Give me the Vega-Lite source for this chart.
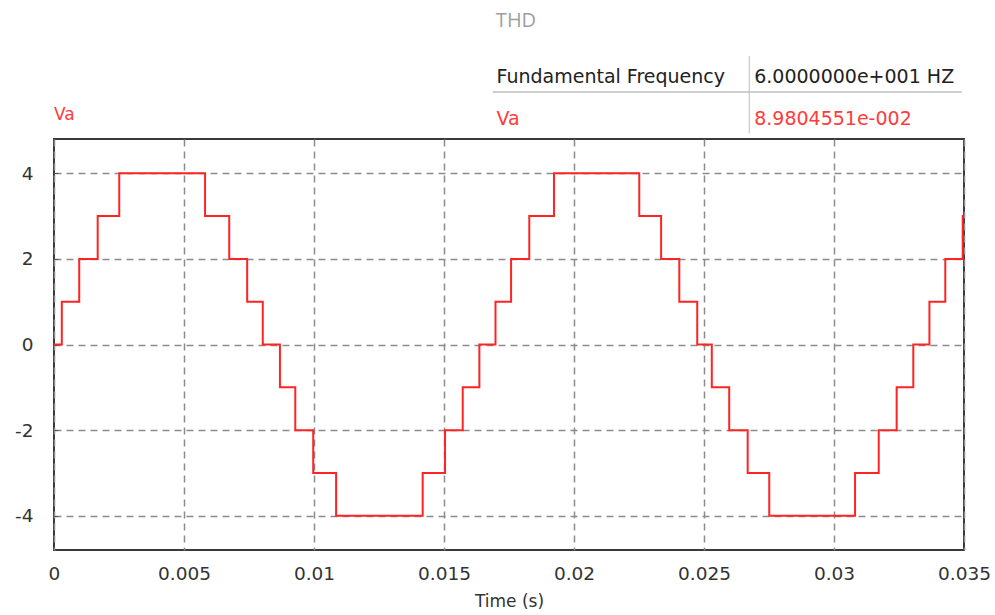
{
  "$schema": "https://vega.github.io/schema/vega-lite/v6.json",
  "width": 910,
  "height": 411,
  "autosize": {"type": "none"},
  "padding": {"left": 54, "top": 139, "right": 31, "bottom": 65},
  "background": "white",
  "title": {"text": "THD", "color": "#a0a0a0", "fontSize": 20, "font": "Open Sans", "fontWeight": "normal", "offset": 24, "anchor": "middle", "dx": 7},
  "config": {"view": {"stroke": "#3a3a3a", "strokeWidth": 2}},
  "datasets": {
    "wave": [
      {"t": 0, "v": 0}, {"t": 0.0003, "v": 1}, {"t": 0.00097, "v": 2}, {"t": 0.00168, "v": 3}, {"t": 0.00251, "v": 4},
      {"t": 0.00581, "v": 3}, {"t": 0.00674, "v": 2}, {"t": 0.00743, "v": 1}, {"t": 0.00803, "v": 0},
      {"t": 0.00869, "v": -1}, {"t": 0.00928, "v": -2}, {"t": 0.00997, "v": -3}, {"t": 0.01085, "v": -4},
      {"t": 0.01418, "v": -3}, {"t": 0.01504, "v": -2}, {"t": 0.01572, "v": -1}, {"t": 0.01636, "v": 0},
      {"t": 0.01698, "v": 1}, {"t": 0.01758, "v": 2}, {"t": 0.01828, "v": 3}, {"t": 0.01923, "v": 4},
      {"t": 0.02251, "v": 3}, {"t": 0.02335, "v": 2}, {"t": 0.02405, "v": 1}, {"t": 0.02474, "v": 0},
      {"t": 0.0253, "v": -1}, {"t": 0.02597, "v": -2}, {"t": 0.02668, "v": -3}, {"t": 0.02751, "v": -4},
      {"t": 0.03081, "v": -3}, {"t": 0.03172, "v": -2}, {"t": 0.03241, "v": -1}, {"t": 0.03305, "v": 0},
      {"t": 0.03367, "v": 1}, {"t": 0.03428, "v": 2}, {"t": 0.03495, "v": 3}, {"t": 0.035, "v": 3}
    ],
    "table": [
      {"quantity": "Fundamental Frequency", "reading": "6.0000000e+001 HZ"},
      {"quantity": "Va", "reading": "8.9804551e-002"}
    ],
    "legend": [{"series": "Va"}]
  },
  "layer": [
    {
      "data": {"name": "wave"},
      "mark": {"type": "line", "interpolate": "step-after", "color": "#ff2424", "strokeWidth": 2, "clip": true},
      "encoding": {
        "x": {
          "field": "t", "type": "quantitative",
          "scale": {"domain": [0, 0.035], "nice": false, "zero": false},
          "axis": {
            "title": "Time (s)", "titleFont": "DejaVu Sans", "titleFontSize": 17, "titleFontWeight": "normal", "titleColor": "#333", "titlePadding": 11,
            "values": [0, 0.005, 0.01, 0.015, 0.02, 0.025, 0.03, 0.035], "format": "~g",
            "labelFont": "DejaVu Sans", "labelFontSize": 18.5, "labelColor": "#333", "labelPadding": 14, "labelFlush": false,
            "ticks": false, "domain": false,
            "grid": true, "gridColor": "#8c8c8c", "gridDash": [7, 5], "gridWidth": 1.5
          }
        },
        "y": {
          "field": "v", "type": "quantitative",
          "scale": {"domain": [-4.8, 4.8], "nice": false, "zero": false},
          "axis": {
            "title": null, "values": [-4, -2, 0, 2, 4],
            "labelExpr": "datum.value < 0 ? '-' + abs(datum.value) : '' + datum.value",
            "labelFont": "DejaVu Sans", "labelFontSize": 18.5, "labelColor": "#333", "labelPadding": 25,
            "ticks": true, "tickSize": -4, "tickColor": "#555", "domain": false,
            "grid": true, "gridColor": "#8c8c8c", "gridDash": [7, 5], "gridWidth": 1.5
          }
        }
      }
    },
    {
      "data": {"name": "legend"},
      "mark": {"type": "text", "align": "left", "baseline": "middle", "font": "DejaVu Sans", "fontSize": 17, "color": "#ff3b3b"},
      "encoding": {"text": {"field": "series"}, "x": {"datum": 0.0}, "y": {"datum": 5.35}}
    },
    {
      "data": {"name": "table"},
      "transform": [{"filter": "datum.quantity == 'Fundamental Frequency'"}],
      "layer": [
        {"mark": {"type": "text", "align": "left", "baseline": "middle", "font": "DejaVu Sans", "fontSize": 19, "color": "#222"},
         "encoding": {"text": {"field": "quantity"}, "x": {"datum": 0.01702}, "y": {"datum": 6.25}}},
        {"mark": {"type": "text", "align": "left", "baseline": "middle", "font": "DejaVu Sans", "fontSize": 19, "color": "#222"},
         "encoding": {"text": {"field": "reading"}, "x": {"datum": 0.02693}, "y": {"datum": 6.25}}}
      ]
    },
    {
      "data": {"name": "table"},
      "transform": [{"filter": "datum.quantity == 'Va'"}],
      "layer": [
        {"mark": {"type": "text", "align": "left", "baseline": "middle", "font": "DejaVu Sans", "fontSize": 19, "color": "#ff3b3b"},
         "encoding": {"text": {"field": "quantity"}, "x": {"datum": 0.01702}, "y": {"datum": 5.27}}},
        {"mark": {"type": "text", "align": "left", "baseline": "middle", "font": "DejaVu Sans", "fontSize": 19, "color": "#ff3b3b"},
         "encoding": {"text": {"field": "reading"}, "x": {"datum": 0.02693}, "y": {"datum": 5.27}}}
      ]
    },
    {
      "data": {"values": [{}]},
      "mark": {"type": "rule", "color": "#cfcfcf", "strokeWidth": 2, "clip": false},
      "encoding": {"x": {"datum": 0.01687}, "x2": {"datum": 0.03492}, "y": {"datum": 5.9}}
    },
    {
      "data": {"values": [{}]},
      "mark": {"type": "rule", "color": "#bdbdbd", "strokeWidth": 1, "clip": false},
      "encoding": {"x": {"datum": 0.02674}, "y": {"datum": 6.74}, "y2": {"datum": 4.93}}
    }
  ]
}
